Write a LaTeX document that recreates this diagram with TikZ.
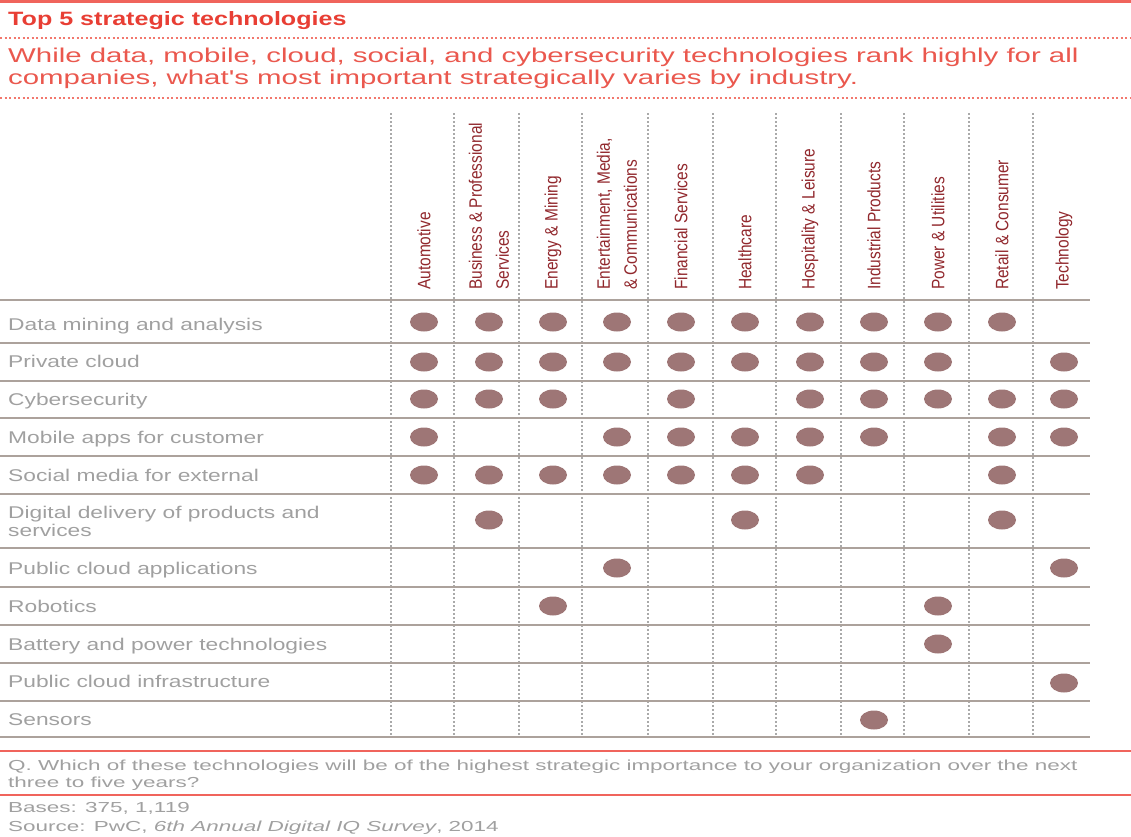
\documentclass[tikz,border=0pt]{standalone}
\usepackage{fontspec}
\usetikzlibrary{shapes.geometric}
\setmainfont{Liberation Sans}
\newfontfamily\widefont[FakeStretch=1.3]{Liberation Sans}
\newfontfamily\rowfont[FakeStretch=1.34]{Liberation Sans}
\newfontfamily\subfont[FakeStretch=1.47]{Liberation Sans}
\newfontfamily\footfont[FakeStretch=1.55]{Liberation Sans}
\newfontfamily\narrowfont[FakeStretch=0.86]{Liberation Sans}
\definecolor{titlered}{RGB}{232,62,52}
\definecolor{subred}{RGB}{234,88,78}
\definecolor{rulered}{RGB}{240,100,92}
\definecolor{dashred}{RGB}{242,120,110}
\definecolor{headred}{RGB}{145,40,45}
\definecolor{labelgrey}{RGB}{160,160,160}
\definecolor{dotbrown}{RGB}{158,118,118}
\definecolor{rowline}{RGB}{172,162,156}
\definecolor{colline}{RGB}{170,170,170}
\begin{document}
\begin{tikzpicture}[x=1pt,y=1pt,
  titletext/.style={anchor=base west,inner sep=0,font=\widefont\bfseries\fontsize{19.3}{22}\selectfont,text=titlered},
  subtext/.style={anchor=base west,inner sep=0,font=\subfont\fontsize{20}{23}\selectfont,text=subred},
  rowlabel/.style={anchor=base west,inner sep=0,align=left,font=\rowfont\fontsize{17}{18}\selectfont,text=labelgrey},
  collabel/.style={rotate=90,anchor=west,inner sep=0,align=left,font=\narrowfont\fontsize{18}{27}\selectfont,text=headred},
  foottext/.style={anchor=base west,inner sep=0,font=\footfont\fontsize{14.5}{17}\selectfont,text=labelgrey},
  dot/.style={ellipse,fill=dotbrown,minimum width=28pt,minimum height=19pt,inner sep=0},
  redrule/.style={draw=rulered,line width=2pt},
  reddash/.style={draw=dashred,line width=1.2pt,dash pattern=on 2pt off 2.5pt},
  rowrule/.style={draw=rowline,line width=1.8pt},
  colrule/.style={draw=colline,line width=1.6pt,dash pattern=on 1.6pt off 2.4pt}]
\useasboundingbox (0,0) rectangle (1131,-836);
% header rules and titles
\draw[redrule,line width=3pt] (0,-1.5) -- (1131,-1.5);
\node[titletext] (title) at (8,-25) {Top 5 strategic technologies};
\draw[reddash] (0,-38) -- (1131,-38);
\node[subtext] (sub1) at (8,-62) {While data, mobile, cloud, social, and cybersecurity technologies rank highly for all};
\node[subtext] (sub2) at (8,-84) {companies, what's most important strategically varies by industry.};
\draw[reddash] (0,-98) -- (1131,-98);
% column separators
\foreach \x in {391,454,519,582,648,713,776,841,904,969,1033}
  \draw[colrule] (\x,-113) -- (\x,-737);
% row rules
\foreach \y in {300,343,381,418,456,494,548,587,625,663,701,737}
  \draw[rowrule] (0,-\y) -- (1090,-\y);
% column coordinates
\foreach \c/\x in {1/424,2/489,3/553,4/617,5/681,6/745,7/810,8/874,9/938,10/1002,11/1064}
  \coordinate (c\c) at (\x,-290);
% row coordinates (dot centres)
\foreach \r/\y in {1/322,2/362,3/399,4/437,5/475,6/520,7/568,8/606,9/644,10/683,11/720}
  \coordinate (r\r) at (0,-\y);
% column labels
\node[collabel] (h1) at (c1) {Automotive};
\node[collabel] (h2) at (c2) {Business \& Professional\\Services};
\node[collabel] (h3) at (c3) {Energy \& Mining};
\node[collabel] (h4) at (c4) {Entertainment, Media,\\\& Communications};
\node[collabel] (h5) at (c5) {Financial Services};
\node[collabel] (h6) at (c6) {Healthcare};
\node[collabel] (h7) at (c7) {Hospitality \& Leisure};
\node[collabel] (h8) at (c8) {Industrial Products};
\node[collabel] (h9) at (c9) {Power \& Utilities};
\node[collabel] (h10) at (c10) {Retail \& Consumer};
\node[collabel] (h11) at (c11) {Technology};
% row labels
\node[rowlabel] (l1) at (8,-330) {Data mining and analysis};
\node[rowlabel] (l2) at (8,-367) {Private cloud};
\node[rowlabel] (l3) at (8,-405) {Cybersecurity};
\node[rowlabel] (l4) at (8,-443) {Mobile apps for customer};
\node[rowlabel] (l5) at (8,-481) {Social media for external};
\node[rowlabel,anchor=west] (l6) at (8,-521) {Digital delivery of products and\\services};
\node[rowlabel] (l7) at (8,-574) {Public cloud applications};
\node[rowlabel] (l8) at (8,-612) {Robotics};
\node[rowlabel] (l9) at (8,-650) {Battery and power technologies};
\node[rowlabel] (l10) at (8,-687) {Public cloud infrastructure};
\node[rowlabel] (l11) at (8,-725) {Sensors};
% dots
\foreach \r/\c in {1/1,1/2,1/3,1/4,1/5,1/6,1/7,1/8,1/9,1/10,
                   2/1,2/2,2/3,2/4,2/5,2/6,2/7,2/8,2/9,2/11,
                   3/1,3/2,3/3,3/5,3/7,3/8,3/9,3/10,3/11,
                   4/1,4/4,4/5,4/6,4/7,4/8,4/10,4/11,
                   5/1,5/2,5/3,5/4,5/5,5/6,5/7,5/10,
                   6/2,6/6,6/10,
                   7/4,7/11,
                   8/3,8/9,
                   9/9,
                   10/11,
                   11/8}
  \node[dot] (d\r-\c) at (c\c |- r\r) {};
% footer
\draw[redrule] (0,-751) -- (1131,-751);
\node[foottext] (q1) at (8,-770) {Q. Which of these technologies will be of the highest strategic importance to your organization over the next};
\node[foottext] (q2) at (8,-787) {three to five years?};
\draw[redrule] (0,-795) -- (1131,-795);
\node[foottext] (bases) at (8,-812) {Bases: 375, 1,119};
\node[foottext] (source) at (8,-831) {Source: PwC, \textit{6th Annual Digital IQ Survey}, 2014};
\end{tikzpicture}
\end{document}
